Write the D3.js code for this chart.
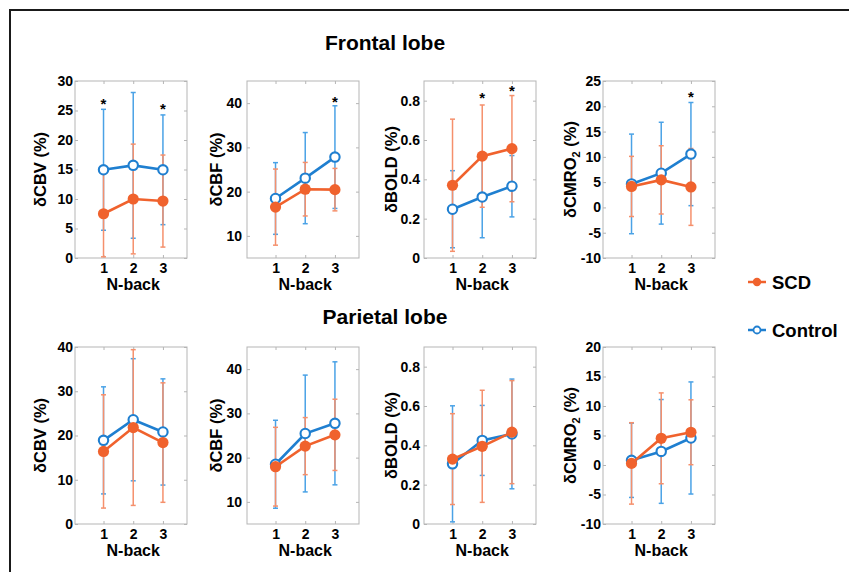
<!DOCTYPE html>
<html><head><meta charset="utf-8">
<script src="https://cdn.jsdelivr.net/npm/d3@7"></script>
<style>
body{margin:0;background:#fff}
svg{display:block}
text{font-family:"Liberation Sans",Arial,Helvetica,sans-serif;font-weight:bold;fill:#000}
</style>
</head><body>
<svg id="chart" width="849" height="572"></svg>
<script>
// ---------------- data ----------------
const nback = [1, 2, 3];
const regions = ["Frontal lobe", "Parietal lobe"];
const measures = ["CBV", "CBF", "BOLD", "CMRO"];
const series = ["SCD", "Control"];

// y domains and tick labels per region / measure
const frontalDomains = [[0, 30], [5, 45], [0, 0.9], [-10, 25]];
const parietalDomains = [[0, 40], [5, 45], [0, 0.9], [-10, 20]];
const frontalTicks = [[0, 5, 10, 15, 20, 25, 30], [10, 20, 30, 40], [0, 0.2, 0.4, 0.6, 0.8], [-10, -5, 0, 5, 10, 15, 20, 25]];
const parietalTicks = [[0, 10, 20, 30, 40], [10, 20, 30, 40], [0, 0.2, 0.4, 0.6, 0.8], [-10, -5, 0, 5, 10, 15, 20]];

// means and SDs (per measure: N-back 1,2,3)
const frontalSCD = [[7.5, 10.0, 9.65], [16.5, 20.55, 20.45], [0.37, 0.518, 0.556], [4.15, 5.45, 4.05]];
const frontalSCDsd = [[7.3, 9.3, 7.8], [8.6, 6.05, 4.8], [0.336, 0.26, 0.27], [5.95, 6.75, 7.6]];
const frontalCtl = [[14.95, 15.7, 14.95], [18.45, 23.05, 27.8], [0.248, 0.31, 0.365], [4.65, 6.77, 10.55]];
const frontalCtlSd = [[10.25, 12.35, 9.3], [8.1, 10.3, 11.6], [0.196, 0.207, 0.156], [9.85, 10.07, 10.2]];

const parietalSCD = [[16.4, 21.8, 18.4], [17.95, 22.6, 25.15], [0.33, 0.395, 0.467], [0.27, 4.52, 5.55]];
const parietalSCDsd = [[12.8, 17.6, 13.5], [8.9, 6.45, 8.05], [0.231, 0.285, 0.262], [6.9, 7.7, 5.5]];
const parietalCtl = [[18.9, 23.56, 20.8], [18.5, 25.45, 27.75], [0.306, 0.425, 0.458], [0.8, 2.3, 4.58]];
const parietalCtlSd = [[12.1, 13.8, 12.0], [9.94, 13.2, 13.9], [0.295, 0.178, 0.279], [6.3, 8.8, 9.5]];

// significance asterisks (N-back position, y value)
const frontalStarN = [[1, 3], [3], [2, 3], [3]];
const frontalStarY = [[26.6, 25.7], [40.9], [0.83, 0.865], [22.4]];
const parietalStarN = [[], [], [], []];
const parietalStarY = [[], [], [], []];

// ---------------- layout / style ----------------
const colSCD = "#f0622d", colSCDerr = "#f5906c";
const colCtl = "#1f7fd0", colCtlErr = "#4aa2e6";
const axisGray = "#b5b5b5";
const colLeft = [75, 247, 424, 603];
const boxW = 112;
const rowTop = [81, 347];
const boxH = 177;
const tickGap = [2, 5, 4, 2];
const labelDist = [29, 25, 27, 27];

const svg = d3.select("#chart");

// outer frame
svg.append("rect").attr("x", 10).attr("y", 10).attr("width", 900).attr("height", 700)
  .attr("fill", "none").attr("stroke", "#1a1a1a").attr("stroke-width", 2);

const regionData = [
  {title: regions[0], dom: frontalDomains, ticks: frontalTicks, scd: frontalSCD, scdSd: frontalSCDsd, ctl: frontalCtl, ctlSd: frontalCtlSd, starN: frontalStarN, starY: frontalStarY, titleY: 50},
  {title: regions[1], dom: parietalDomains, ticks: parietalTicks, scd: parietalSCD, scdSd: parietalSCDsd, ctl: parietalCtl, ctlSd: parietalCtlSd, starN: parietalStarN, starY: parietalStarY, titleY: 324}
];

regionData.forEach((R, ri) => {
  svg.append("text").attr("x", 385).attr("y", R.titleY).attr("text-anchor", "middle")
    .style("font-size", "21px").text(R.title);

  measures.forEach((m, mi) => {
    const L = colLeft[mi], T = rowTop[ri];
    const x = d3.scaleLinear().domain([0.04, 3.81]).range([L, L + boxW]);
    const y = d3.scaleLinear().domain(R.dom[mi]).range([T + boxH, T]);
    const g = svg.append("g");

    // box
    g.append("rect").attr("x", L).attr("y", T).attr("width", boxW).attr("height", boxH)
      .attr("fill", "none").attr("stroke", axisGray).attr("stroke-width", 1);

    const fmt = d => String(d);
    const ay = g.append("g").attr("transform", `translate(${L},0)`)
      .call(d3.axisLeft(y).tickValues(R.ticks[mi]).tickFormat(fmt).tickSizeInner(-3).tickSizeOuter(0).tickPadding(tickGap[mi]));
    const ayr = g.append("g").attr("transform", `translate(${L + boxW},0)`)
      .call(d3.axisRight(y).tickValues(R.ticks[mi]).tickFormat("").tickSizeInner(-3).tickSizeOuter(0));
    const ax = g.append("g").attr("transform", `translate(0,${T + boxH})`)
      .call(d3.axisBottom(x).tickValues(nback).tickFormat(fmt).tickSizeInner(-3).tickSizeOuter(0).tickPadding(5));
    const axt = g.append("g").attr("transform", `translate(0,${T})`)
      .call(d3.axisTop(x).tickValues(nback).tickFormat("").tickSizeInner(-3).tickSizeOuter(0));
    [ay, ayr, ax, axt].forEach(a => {
      a.select(".domain").remove();
      a.selectAll(".tick line").attr("stroke", axisGray);
      a.selectAll("text").attr("fill", "#000").style("font-size", "14px")
        .style("font-family", '"Liberation Sans",Arial,sans-serif').style("font-weight", "bold");
    });
    ax.selectAll("text").attr("dy", "0.71em");

    // labels
    g.append("text").attr("x", x(2)).attr("y", T + boxH + 32).attr("text-anchor", "middle")
      .style("font-size", "16px").text("N-back");
    const yl = g.append("text")
      .attr("transform", `translate(${L - labelDist[mi]},${T + boxH / 2}) rotate(-90)`)
      .attr("text-anchor", "middle").style("font-size", "16.5px");
    if (m === "CMRO") {
      yl.append("tspan").text("δCMRO");
      yl.append("tspan").text("2").style("font-size", "11px").attr("dy", 4);
      yl.append("tspan").text(" (%)").attr("dy", -4);
    } else {
      yl.text("δ" + m + " (%)");
    }

    const sets = [
      {mean: R.ctl[mi], sd: R.ctlSd[mi], c: colCtl, ce: colCtlErr, open: true},
      {mean: R.scd[mi], sd: R.scdSd[mi], c: colSCD, ce: colSCDerr, open: false}
    ];
    // error bars first
    sets.forEach(s => {
      const eb = g.append("g");
      nback.forEach((n, i) => {
        const lo = y(s.mean[i] - s.sd[i]), hi = y(s.mean[i] + s.sd[i]), xc = x(n);
        eb.append("line").attr("x1", xc).attr("x2", xc).attr("y1", lo).attr("y2", hi)
          .attr("stroke", s.ce).attr("stroke-width", 1.5);
        [lo, hi].forEach(yy => eb.append("line").attr("x1", xc - 2.5).attr("x2", xc + 2.5)
          .attr("y1", yy).attr("y2", yy).attr("stroke", s.ce).attr("stroke-width", 1.5));
      });
    });
    const line = d3.line().x((d, i) => x(nback[i])).y(d => y(d));
    sets.forEach(s => {
      g.append("path").attr("d", line(s.mean)).attr("fill", "none")
        .attr("stroke", s.c).attr("stroke-width", 2.6);
      g.selectAll(null).data(s.mean).enter().append("circle")
        .attr("cx", (d, i) => x(nback[i])).attr("cy", d => y(d))
        .attr("r", s.open ? 4.7 : 5.6)
        .attr("fill", s.open ? "#fff" : s.c)
        .attr("stroke", s.c).attr("stroke-width", s.open ? 2.1 : 0);
    });

    // asterisks
    R.starN[mi].forEach((n, k) => {
      g.append("text").attr("x", x(n)).attr("y", y(R.starY[mi][k]) + 8)
        .attr("text-anchor", "middle").style("font-size", "15px").text("*");
    });
  });
});

// legend
const legend = [
  {name: series[0], c: colSCD, open: false, y: 282},
  {name: series[1], c: colCtl, open: true, y: 330}
];
legend.forEach(l => {
  svg.append("line").attr("x1", 748).attr("x2", 766).attr("y1", l.y).attr("y2", l.y)
    .attr("stroke", l.c).attr("stroke-width", 2.5);
  svg.append("circle").attr("cx", 757).attr("cy", l.y).attr("r", l.open ? 3.5 : 4.2)
    .attr("fill", l.open ? "#fff" : l.c).attr("stroke", l.c).attr("stroke-width", l.open ? 1.8 : 0);
  svg.append("text").attr("x", 772).attr("y", l.y + 6.5).style("font-size", "18.5px").text(l.name);
});
</script>
</body></html>
